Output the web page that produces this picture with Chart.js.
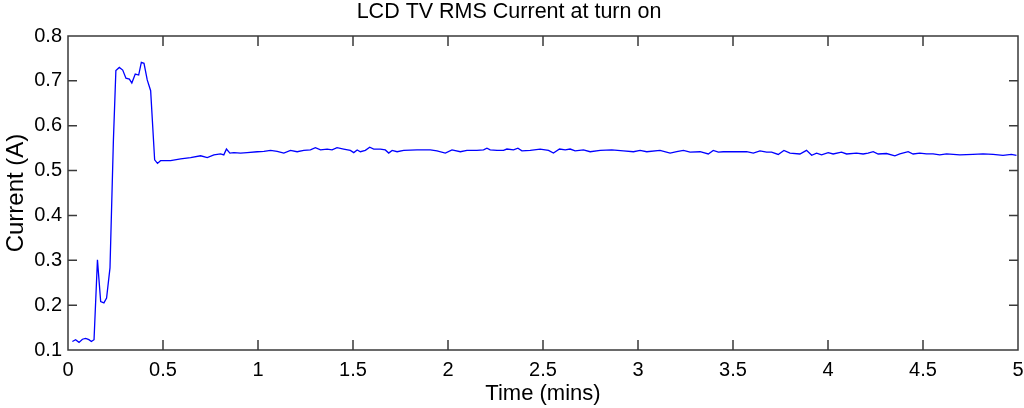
<!DOCTYPE html>
<html>
<head>
<meta charset="utf-8">
<title>LCD TV RMS Current at turn on</title>
<script src="https://cdn.jsdelivr.net/npm/chart.js@4.4.0/dist/chart.umd.min.js"></script>
<style>
  html, body { margin: 0; padding: 0; background: #fff; }
  #wrap { width: 1024px; height: 408px; position: relative; }
</style>
</head>
<body>
<div id="wrap"><canvas id="myChart"></canvas></div>
<script>
// Data
const timeMins = [
  0.023, 0.040, 0.058, 0.076, 0.093, 0.110, 0.123, 0.137, 0.155, 0.172,
  0.189, 0.203, 0.221, 0.239, 0.252, 0.270, 0.288, 0.305, 0.323, 0.336,
  0.354, 0.372, 0.386, 0.400, 0.417, 0.435, 0.456, 0.471, 0.487, 0.540,
  0.593, 0.645, 0.698, 0.733, 0.768, 0.803, 0.820, 0.834, 0.852, 0.873,
  0.908, 0.943, 0.996, 1.031, 1.066, 1.101, 1.136, 1.171, 1.206, 1.241,
  1.276, 1.302, 1.329, 1.364, 1.390, 1.416, 1.451, 1.486, 1.504, 1.522,
  1.539, 1.565, 1.588, 1.609, 1.644, 1.670, 1.688, 1.706, 1.732, 1.767,
  1.837, 1.907, 1.942, 1.986, 2.021, 2.065, 2.100, 2.152, 2.187, 2.205,
  2.222, 2.258, 2.292, 2.310, 2.345, 2.368, 2.389, 2.433, 2.485, 2.529,
  2.555, 2.587, 2.617, 2.643, 2.669, 2.713, 2.748, 2.801, 2.862, 2.923,
  2.976, 3.011, 3.046, 3.116, 3.169, 3.204, 3.239, 3.274, 3.327, 3.370,
  3.396, 3.423, 3.449, 3.519, 3.572, 3.607, 3.642, 3.677, 3.703, 3.738,
  3.768, 3.800, 3.852, 3.887, 3.914, 3.940, 3.966, 4.001, 4.027, 4.071,
  4.098, 4.150, 4.185, 4.211, 4.238, 4.264, 4.308, 4.352, 4.378, 4.422,
  4.448, 4.483, 4.518, 4.553, 4.588, 4.624, 4.694, 4.763, 4.816, 4.869,
  4.921, 4.965, 4.992
];
const currentAmps = [
  0.119, 0.123, 0.117, 0.124, 0.126, 0.123, 0.119, 0.123, 0.301, 0.208,
  0.205, 0.216, 0.283, 0.568, 0.723, 0.730, 0.724, 0.706, 0.704, 0.695,
  0.715, 0.713, 0.741, 0.739, 0.702, 0.678, 0.524, 0.516, 0.522, 0.522,
  0.526, 0.529, 0.533, 0.529, 0.535, 0.537, 0.535, 0.548, 0.539, 0.540,
  0.539, 0.540, 0.542, 0.543, 0.545, 0.543, 0.539, 0.545, 0.542, 0.545,
  0.546, 0.551, 0.546, 0.548, 0.546, 0.551, 0.548, 0.545, 0.540, 0.546,
  0.542, 0.545, 0.552, 0.548, 0.548, 0.546, 0.539, 0.545, 0.542, 0.545,
  0.546, 0.546, 0.544, 0.539, 0.546, 0.542, 0.545, 0.545, 0.546, 0.550,
  0.546, 0.545, 0.545, 0.548, 0.546, 0.550, 0.544, 0.545, 0.548, 0.545,
  0.539, 0.548, 0.546, 0.548, 0.544, 0.546, 0.542, 0.545, 0.546, 0.544,
  0.542, 0.545, 0.542, 0.545, 0.539, 0.542, 0.545, 0.541, 0.542, 0.537,
  0.545, 0.541, 0.542, 0.542, 0.542, 0.539, 0.544, 0.541, 0.541, 0.536,
  0.545, 0.539, 0.537, 0.545, 0.534, 0.539, 0.535, 0.540, 0.537, 0.541,
  0.537, 0.539, 0.537, 0.539, 0.542, 0.537, 0.538, 0.533, 0.537, 0.542,
  0.537, 0.539, 0.537, 0.537, 0.535, 0.537, 0.535, 0.536, 0.537, 0.536,
  0.534, 0.536, 0.534
];
const xTickValues = [0, 0.5, 1, 1.5, 2, 2.5, 3, 3.5, 4, 4.5, 5];
const yTickValues = [0.1, 0.2, 0.3, 0.4, 0.5, 0.6, 0.7, 0.8];

const FONT = "'Liberation Sans', Arial, Helvetica, sans-serif";
const AXIS_COLOR = "#3a3a3a";

// box around the plot, with ticks pointing inward on all four sides
const boxPlugin = {
  id: "matlabBox",
  afterDraw(chart) {
    const c = chart.ctx;
    const a = chart.chartArea;
    const xs = chart.scales.x;
    const ys = chart.scales.y;
    c.save();
    c.strokeStyle = AXIS_COLOR;
    c.lineWidth = 1.5;
    c.beginPath();
    for (const v of xTickValues) {
      const px = xs.getPixelForValue(v);
      c.moveTo(px, a.bottom);
      c.lineTo(px, a.bottom - 10);
      c.moveTo(px, a.top);
      c.lineTo(px, a.top + 10);
    }
    for (const v of yTickValues) {
      const py = ys.getPixelForValue(v);
      c.moveTo(a.left, py);
      c.lineTo(a.left + 9, py);
      c.moveTo(a.right, py);
      c.lineTo(a.right - 9, py);
    }
    c.rect(a.left, a.top, a.right - a.left, a.bottom - a.top);
    c.stroke();
    c.restore();
  },
};

const ctx = document.getElementById("myChart").getContext("2d");

new Chart(ctx, {
  type: "line",
  data: {
    datasets: [
      {
        label: "Current",
        data: timeMins.map((t, i) => ({ x: t, y: currentAmps[i] })),
        borderColor: "rgb(0, 0, 255)",
        borderWidth: 1.3,
        pointRadius: 0,
        fill: false,
        tension: 0,
      },
    ],
  },
  options: {
    responsive: true,
    maintainAspectRatio: false,
    animation: false,
    layout: { padding: { left: 0, right: 6, top: 0, bottom: 0 } },
    plugins: {
      legend: { display: false },
      tooltip: { enabled: false },
      title: {
        display: true,
        text: "LCD TV RMS Current at turn on",
        color: "#000",
        font: { family: FONT, size: 21.5, weight: "normal", lineHeight: 1 },
        padding: { top: 1, bottom: 13.5 },
      },
    },
    scales: {
      x: {
        type: "linear",
        min: 0,
        max: 5,
        grid: { display: false, drawTicks: false },
        border: { display: false },
        afterBuildTicks: (scale) => {
          scale.ticks = xTickValues.map((v) => ({ value: v }));
        },
        afterFit: (scale) => {
          scale.height = 58;
          scale.paddingLeft = 0;
          scale.paddingRight = 0;
        },
        ticks: {
          color: "#000",
          padding: 8,
          maxRotation: 0,
          autoSkip: false,
          font: { family: FONT, size: 20 },
          callback: (v) => String(+Number(v).toFixed(1)),
        },
        title: {
          display: true,
          text: "Time (mins)",
          color: "#000",
          font: { family: FONT, size: 22, lineHeight: 1 },
          padding: { top: 0, bottom: 3.5 },
        },
      },
      y: {
        type: "linear",
        min: 0.1,
        max: 0.8,
        grid: { display: false, drawTicks: false },
        border: { display: false },
        afterBuildTicks: (scale) => {
          scale.ticks = yTickValues.map((v) => ({ value: v }));
        },
        afterFit: (scale) => {
          scale.width = 68;
          scale.paddingTop = 0;
          scale.paddingBottom = 0;
        },
        ticks: {
          color: "#000",
          padding: 6,
          autoSkip: false,
          font: { family: FONT, size: 20 },
          callback: (v) => Number(v).toFixed(1),
        },
        title: {
          display: true,
          text: "Current (A)",
          color: "#000",
          font: { family: FONT, size: 24, lineHeight: 1 },
          padding: { top: 4, bottom: 0 },
        },
      },
    },
  },
  plugins: [boxPlugin],
});
</script>
</body>
</html>
